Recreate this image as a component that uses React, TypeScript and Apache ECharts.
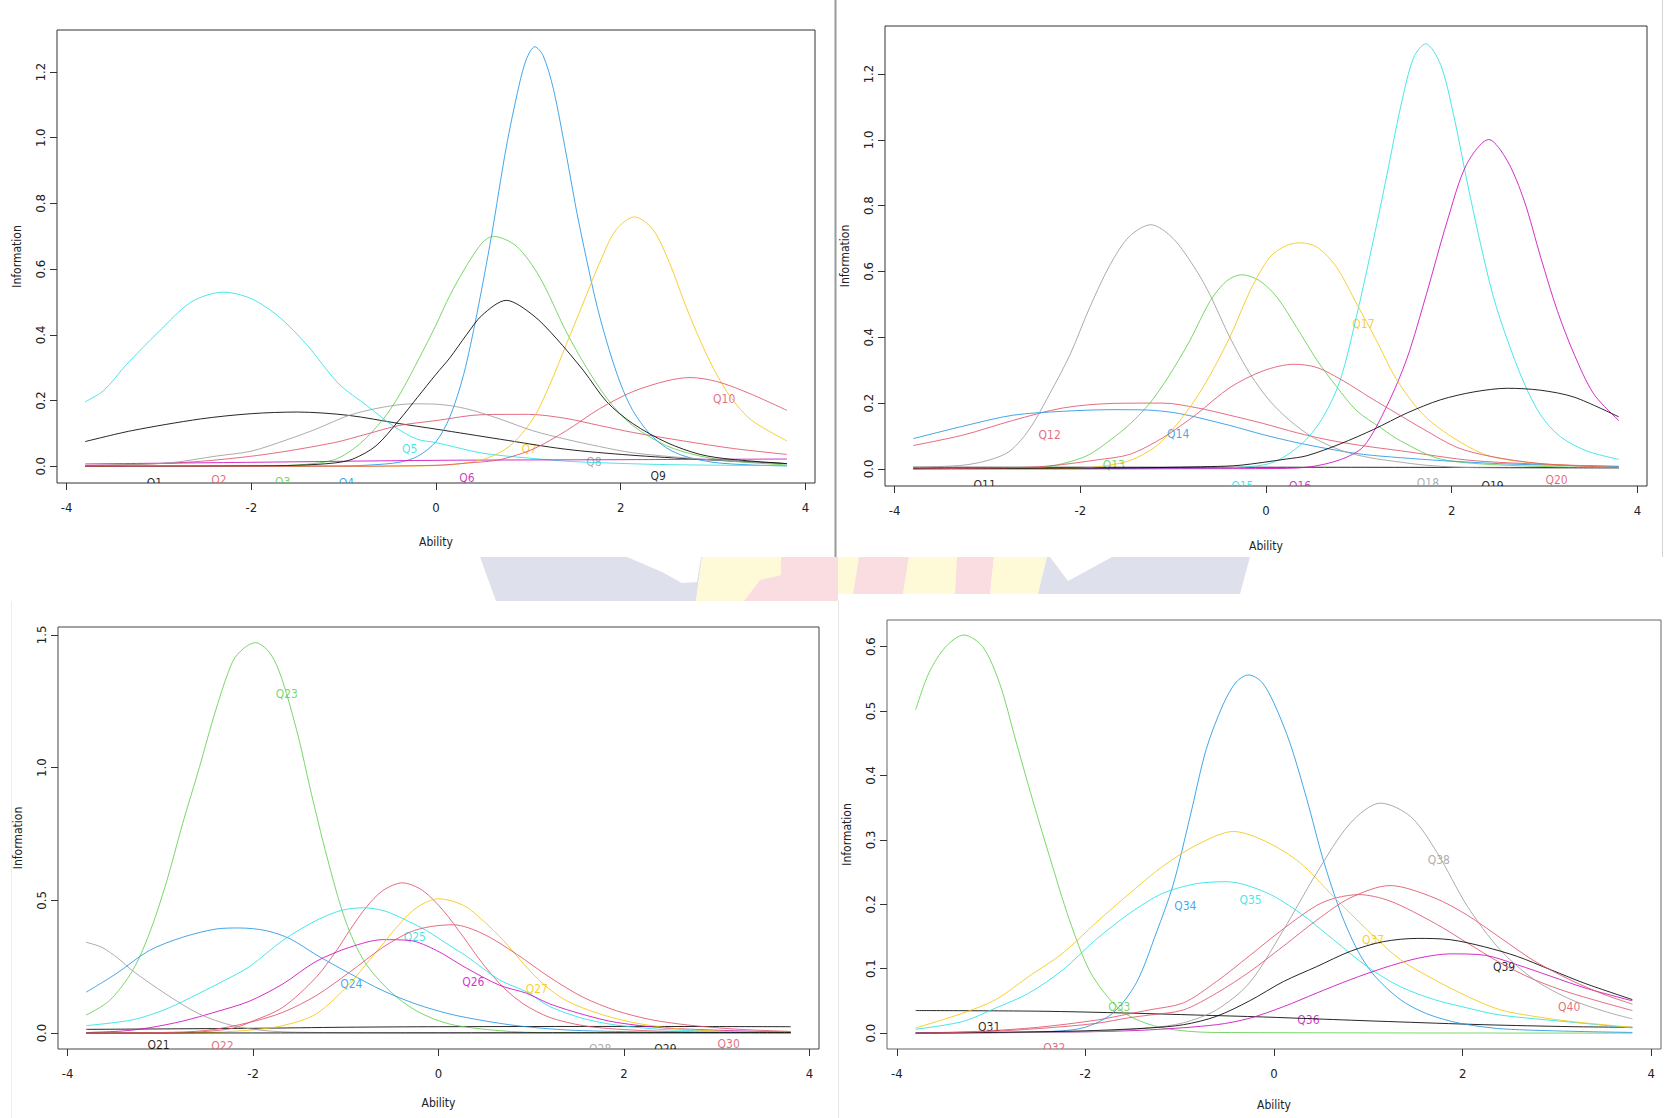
import React, { useEffect, useRef } from "react";
import * as echarts from "echarts";

type Pt = [number, number];

// ---------- Shared axis ticks ----------
const xTicks = [-4, -2, 0, 2, 4];
const yTicksTop = [0, 0.2, 0.4, 0.6, 0.8, 1.0, 1.2];
const yTicks3 = [0, 0.5, 1.0, 1.5];
const yTicks4 = [0, 0.1, 0.2, 0.3, 0.4, 0.5, 0.6];

// R default palette, recycled over the ten items of each panel
const rPalette = ["#000000", "#DF536B", "#61D04F", "#2297E6", "#28E2E5", "#CD0BBC", "#F5C710", "#9E9E9E"];

// ---------- Panel 1: Q1–Q10 (ability, information) ----------
const q01: Pt[] = [[-3.8, 0.075], [-3.3, 0.108], [-2.55, 0.144], [-2.0, 0.16], [-1.5, 0.165], [-0.95, 0.155], [-0.4, 0.13], [0, 0.113], [0.7, 0.082], [1.4, 0.052], [2.1, 0.034], [2.85, 0.021], [3.8, 0.008]];
const q02: Pt[] = [[-3.8, 0.002], [-3.2, 0.006], [-2.55, 0.015], [-1.85, 0.036], [-1.1, 0.072], [-0.75, 0.098], [-0.4, 0.124], [0, 0.139], [0.5, 0.157], [1.0, 0.158], [1.4, 0.146], [1.77, 0.124], [2.13, 0.103], [2.68, 0.077], [3.22, 0.054], [3.8, 0.036]];
const q03: Pt[] = [[-3.8, 0], [-2, 0.001], [-1.5, 0.004], [-1.1, 0.02], [-0.83, 0.067], [-0.57, 0.144], [-0.39, 0.22], [-0.18, 0.33], [0, 0.43], [0.15, 0.52], [0.33, 0.61], [0.5, 0.68], [0.62, 0.70], [0.87, 0.67], [1.12, 0.577], [1.41, 0.41], [1.63, 0.30], [1.88, 0.196], [2.13, 0.124], [2.5, 0.062], [2.86, 0.031], [3.22, 0.015], [3.8, 0.004]];
const q04: Pt[] = [[-3.8, 0], [-1, 0.001], [-0.7, 0.004], [-0.4, 0.012], [-0.2, 0.03], [0, 0.075], [0.15, 0.15], [0.3, 0.28], [0.44, 0.46], [0.6, 0.7], [0.76, 0.97], [0.9, 1.16], [0.98, 1.24], [1.07, 1.277], [1.16, 1.25], [1.27, 1.15], [1.41, 0.95], [1.52, 0.78], [1.63, 0.63], [1.75, 0.48], [1.88, 0.35], [2.0, 0.25], [2.13, 0.17], [2.31, 0.10], [2.5, 0.055], [2.7, 0.03], [3.0, 0.012], [3.4, 0.004], [3.8, 0.001]];
const q05: Pt[] = [[-3.8, 0.196], [-3.6, 0.23], [-3.35, 0.31], [-3.0, 0.41], [-2.65, 0.50], [-2.3, 0.53], [-2.0, 0.51], [-1.7, 0.455], [-1.4, 0.37], [-1.05, 0.25], [-0.75, 0.185], [-0.45, 0.12], [-0.2, 0.082], [0, 0.072], [0.5, 0.04], [1.0, 0.025], [1.5, 0.014], [2.5, 0.005], [3.8, 0.002]];
const q06: Pt[] = [[-3.8, 0.007], [-2, 0.012], [0, 0.018], [2, 0.02], [3.8, 0.022]];
const q07: Pt[] = [[-3.8, 0], [-1, 0], [0, 0.002], [0.5, 0.02], [0.8, 0.062], [1.05, 0.144], [1.23, 0.247], [1.41, 0.37], [1.59, 0.494], [1.77, 0.618], [1.95, 0.72], [2.15, 0.759], [2.35, 0.72], [2.53, 0.618], [2.71, 0.484], [2.93, 0.34], [3.15, 0.227], [3.4, 0.144], [3.8, 0.077]];
const q08: Pt[] = [[-3.8, 0.002], [-2.9, 0.01], [-2.38, 0.031], [-2.0, 0.046], [-1.6, 0.082], [-1.3, 0.113], [-0.94, 0.155], [-0.57, 0.18], [-0.25, 0.19], [0, 0.189], [0.33, 0.175], [0.69, 0.144], [1.05, 0.108], [1.41, 0.082], [1.77, 0.06], [2.13, 0.041], [2.68, 0.026], [3.22, 0.015], [3.8, 0.008]];
const q09: Pt[] = [[-3.8, 0], [-2, 0.001], [-1.5, 0.003], [-1.1, 0.01], [-0.9, 0.022], [-0.65, 0.062], [-0.4, 0.14], [-0.2, 0.21], [0, 0.28], [0.15, 0.33], [0.33, 0.40], [0.5, 0.46], [0.76, 0.505], [1.05, 0.46], [1.3, 0.39], [1.6, 0.29], [1.85, 0.196], [2.13, 0.13], [2.5, 0.072], [2.86, 0.036], [3.2, 0.021], [3.8, 0.008]];
const q10: Pt[] = [[-3.8, 0], [-1, 0], [0, 0.003], [0.35, 0.01], [0.69, 0.02], [1.05, 0.052], [1.41, 0.108], [1.77, 0.175], [2.13, 0.227], [2.5, 0.26], [2.75, 0.27], [3.04, 0.258], [3.4, 0.221], [3.8, 0.17]];
const names1 = ["Q1", "Q2", "Q3", "Q4", "Q5", "Q6", "Q7", "Q8", "Q9", "Q10"];
const labelAt1: Pt[] = [[-3.05, -0.05], [-2.35, -0.041], [-1.66, -0.049], [-0.97, -0.052], [-0.285, 0.054], [0.336, -0.036], [1.01, 0.054], [1.71, 0.012], [2.405, -0.029], [3.12, 0.206]];

// ---------- Panel 2: Q11–Q20 ----------
const q11: Pt[] = [[-3.8, 0.005], [0, 0.005], [3.8, 0.004]];
const q12: Pt[] = [[-3.8, 0.071], [-3.26, 0.103], [-2.73, 0.147], [-2.19, 0.185], [-1.65, 0.199], [-1.11, 0.2], [-0.75, 0.186], [-0.39, 0.163], [-0.03, 0.138], [0.33, 0.11], [0.69, 0.087], [1.05, 0.07], [1.45, 0.055], [2.24, 0.025], [3.3, 0.011], [3.8, 0.008]];
const q13: Pt[] = [[-3.8, 0.001], [-2.8, 0.002], [-2.4, 0.005], [-2.11, 0.022], [-1.9, 0.044], [-1.68, 0.087], [-1.47, 0.135], [-1.25, 0.2], [-1.04, 0.285], [-0.82, 0.39], [-0.6, 0.511], [-0.42, 0.572], [-0.26, 0.59], [-0.07, 0.572], [0.12, 0.521], [0.33, 0.43], [0.55, 0.33], [0.76, 0.25], [0.98, 0.176], [1.23, 0.126], [1.45, 0.085], [1.88, 0.03], [2.6, 0.011], [3.8, 0.003]];
const q14: Pt[] = [[-3.8, 0.092], [-3.26, 0.13], [-2.73, 0.163], [-2.19, 0.175], [-1.65, 0.18], [-1.29, 0.179], [-0.93, 0.168], [-0.39, 0.132], [-0.03, 0.104], [0.33, 0.08], [0.69, 0.06], [1.05, 0.044], [1.45, 0.034], [1.9, 0.025], [2.6, 0.015], [3.3, 0.01], [3.8, 0.007]];
const q15: Pt[] = [[-3.8, 0], [-1, 0.001], [-0.28, 0.005], [0.08, 0.02], [0.4, 0.08], [0.62, 0.16], [0.8, 0.27], [0.98, 0.47], [1.16, 0.7], [1.3, 0.89], [1.45, 1.1], [1.59, 1.25], [1.72, 1.292], [1.88, 1.229], [2.02, 1.077], [2.16, 0.881], [2.31, 0.685], [2.45, 0.522], [2.6, 0.392], [2.78, 0.261], [2.96, 0.163], [3.17, 0.098], [3.46, 0.054], [3.8, 0.029]];
const q16: Pt[] = [[-3.8, 0], [0, 0.001], [0.44, 0.005], [0.8, 0.028], [1.05, 0.068], [1.3, 0.19], [1.52, 0.337], [1.73, 0.533], [1.95, 0.751], [2.16, 0.925], [2.4, 1.001], [2.6, 0.936], [2.78, 0.816], [2.96, 0.642], [3.14, 0.479], [3.32, 0.348], [3.53, 0.228], [3.8, 0.147]];
const q17: Pt[] = [[-3.8, 0], [-2.2, 0.001], [-1.83, 0.006], [-1.47, 0.025], [-1.18, 0.07], [-0.93, 0.146], [-0.68, 0.247], [-0.39, 0.40], [-0.17, 0.542], [0.04, 0.643], [0.22, 0.679], [0.37, 0.687], [0.55, 0.674], [0.76, 0.613], [0.98, 0.50], [1.19, 0.39], [1.41, 0.27], [1.7, 0.163], [2.06, 0.087], [2.42, 0.038], [2.96, 0.016], [3.8, 0.004]];
const q18: Pt[] = [[-3.8, 0.005], [-3.27, 0.011], [-2.98, 0.027], [-2.76, 0.054], [-2.55, 0.12], [-2.33, 0.228], [-2.11, 0.348], [-1.9, 0.49], [-1.68, 0.62], [-1.47, 0.707], [-1.24, 0.742], [-1.0, 0.70], [-0.75, 0.603], [-0.6, 0.527], [-0.39, 0.40], [-0.17, 0.288], [0.04, 0.207], [0.26, 0.146], [0.51, 0.095], [0.83, 0.054], [1.12, 0.034], [1.41, 0.022], [1.73, 0.011], [2.2, 0.004], [3.8, 0.001]];
const q19: Pt[] = [[-3.8, 0.001], [-1.5, 0.003], [-0.6, 0.007], [-0.28, 0.011], [0.22, 0.03], [0.44, 0.04], [0.8, 0.076], [1.16, 0.12], [1.52, 0.17], [1.88, 0.21], [2.24, 0.234], [2.6, 0.245], [2.96, 0.239], [3.32, 0.218], [3.8, 0.158]];
const q20: Pt[] = [[-3.8, 0], [-2.55, 0.005], [-2.2, 0.013], [-1.83, 0.027], [-1.47, 0.044], [-1.11, 0.095], [-0.75, 0.166], [-0.39, 0.247], [-0.03, 0.298], [0.3, 0.318], [0.55, 0.308], [0.83, 0.268], [1.12, 0.217], [1.4, 0.17], [1.7, 0.12], [2.06, 0.065], [2.42, 0.038], [2.96, 0.016], [3.8, 0.004]];
const names2 = ["Q11", "Q12", "Q13", "Q14", "Q15", "Q16", "Q17", "Q18", "Q19", "Q20"];
const labelAt2: Pt[] = [[-3.03, -0.049], [-2.33, 0.103], [-1.64, 0.013], [-0.946, 0.107], [-0.255, -0.052], [0.367, -0.052], [1.05, 0.44], [1.744, -0.044], [2.44, -0.052], [3.13, -0.035]];

// ---------- Panel 3: Q21–Q30 ----------
const q21: Pt[] = [[-3.8, 0.014], [-2, 0.018], [-1, 0.022], [0, 0.024], [2, 0.025], [3.8, 0.024]];
const q22: Pt[] = [[-3.8, 0], [-2.9, 0.001], [-2.58, 0.004], [-2.22, 0.018], [-2.04, 0.04], [-1.68, 0.097], [-1.32, 0.21], [-1.1, 0.311], [-0.96, 0.386], [-0.78, 0.474], [-0.6, 0.537], [-0.39, 0.566], [-0.17, 0.537], [0.05, 0.462], [0.27, 0.361], [0.48, 0.26], [0.7, 0.172], [0.92, 0.109], [1.2, 0.059], [1.56, 0.028], [1.92, 0.015], [2.5, 0.006], [3.8, 0.001]];
const q23: Pt[] = [[-3.8, 0.068], [-3.55, 0.122], [-3.3, 0.235], [-3.12, 0.374], [-2.94, 0.562], [-2.76, 0.789], [-2.58, 1.0], [-2.4, 1.22], [-2.22, 1.4], [-2.1, 1.45], [-1.975, 1.471], [-1.85, 1.445], [-1.75, 1.39], [-1.64, 1.28], [-1.5, 1.1], [-1.39, 0.93], [-1.2, 0.66], [-1.0, 0.42], [-0.8, 0.27], [-0.53, 0.16], [-0.24, 0.084], [0.12, 0.034], [0.66, 0.009], [1.2, 0.001], [3.8, 0]];
const q24: Pt[] = [[-3.8, 0.154], [-3.48, 0.223], [-3.12, 0.311], [-2.76, 0.361], [-2.4, 0.392], [-2.15, 0.396], [-1.86, 0.386], [-1.6, 0.355], [-1.32, 0.295], [-0.96, 0.225], [-0.6, 0.16], [-0.24, 0.109], [0.12, 0.072], [0.48, 0.047], [0.84, 0.028], [1.2, 0.016], [1.56, 0.009], [2.5, 0.003], [3.8, 0.001]];
const q25: Pt[] = [[-3.8, 0.028], [-3.3, 0.05], [-2.94, 0.09], [-2.58, 0.15], [-2.3, 0.2], [-2.04, 0.25], [-1.68, 0.349], [-1.32, 0.424], [-1.05, 0.462], [-0.81, 0.472], [-0.6, 0.462], [-0.42, 0.437], [-0.13, 0.386], [0.12, 0.33], [0.3, 0.29], [0.66, 0.2], [0.95, 0.155], [1.2, 0.1], [1.56, 0.055], [1.92, 0.03], [2.5, 0.012], [3.8, 0.003]];
const q26: Pt[] = [[-3.8, 0.002], [-3.4, 0.008], [-3.12, 0.02], [-2.76, 0.045], [-2.4, 0.08], [-2.04, 0.12], [-1.68, 0.185], [-1.32, 0.27], [-0.96, 0.323], [-0.6, 0.352], [-0.31, 0.349], [-0.02, 0.311], [0.3, 0.245], [0.66, 0.18], [0.95, 0.15], [1.2, 0.11], [1.56, 0.07], [1.92, 0.04], [2.5, 0.018], [3.8, 0.003]];
const q27: Pt[] = [[-3.8, 0], [-2.6, 0.001], [-2.04, 0.011], [-1.68, 0.028], [-1.32, 0.072], [-0.96, 0.185], [-0.78, 0.26], [-0.6, 0.336], [-0.42, 0.411], [-0.23, 0.474], [0, 0.506], [0.27, 0.481], [0.48, 0.424], [0.7, 0.349], [0.92, 0.26], [1.13, 0.185], [1.38, 0.122], [1.74, 0.072], [2.1, 0.04], [2.5, 0.019], [3.0, 0.008], [3.8, 0.002]];
const q28: Pt[] = [[-3.8, 0.342], [-3.63, 0.323], [-3.45, 0.28], [-3.3, 0.235], [-2.94, 0.147], [-2.58, 0.072], [-2.22, 0.028], [-1.86, 0.009], [-1.5, 0.003], [0, 0], [3.8, 0]];
const q29: Pt[] = [[-3.8, 0], [0, 0.001], [3.8, 0.002]];
const q30: Pt[] = [[-3.8, 0], [-3, 0.002], [-2.5, 0.01], [-2.04, 0.04], [-1.68, 0.078], [-1.32, 0.141], [-0.96, 0.229], [-0.6, 0.323], [-0.31, 0.38], [-0.09, 0.401], [0.16, 0.408], [0.48, 0.374], [0.84, 0.298], [1.2, 0.21], [1.56, 0.135], [1.92, 0.084], [2.3, 0.05], [2.7, 0.03], [3.2, 0.015], [3.8, 0.006]];
const names3 = ["Q21", "Q22", "Q23", "Q24", "Q25", "Q26", "Q27", "Q28", "Q29", "Q30"];
const labelAt3: Pt[] = [[-3.02, -0.045], [-2.33, -0.05], [-1.636, 1.276], [-0.94, 0.185], [-0.256, 0.361], [0.375, 0.191], [1.06, 0.166], [1.744, -0.06], [2.447, -0.06], [3.13, -0.042]];

// ---------- Panel 4: Q31–Q40 ----------
const q31: Pt[] = [[-3.8, 0.035], [-2.5, 0.034], [-1.53, 0.031], [-0.82, 0.028], [-0.11, 0.025], [0.45, 0.022], [1.2, 0.018], [2.23, 0.013], [3.15, 0.01], [3.8, 0.009]];
const q32: Pt[] = [[-3.8, 0], [-3.1, 0.003], [-2.5, 0.009], [-1.89, 0.02], [-1.53, 0.03], [-1.32, 0.036], [-0.96, 0.047], [-0.61, 0.08], [-0.26, 0.12], [0.1, 0.162], [0.45, 0.198], [0.66, 0.21], [0.9, 0.215], [1.23, 0.205], [1.7, 0.171], [2.05, 0.14], [2.4, 0.109], [2.76, 0.083], [3.15, 0.062], [3.8, 0.035]];
const q33: Pt[] = [[-3.8, 0.502], [-3.66, 0.559], [-3.48, 0.6], [-3.29, 0.618], [-3.09, 0.6], [-2.91, 0.543], [-2.74, 0.455], [-2.56, 0.362], [-2.38, 0.274], [-2.17, 0.176], [-1.96, 0.098], [-1.74, 0.052], [-1.53, 0.026], [-1.18, 0.008], [-0.65, 0.001], [3.8, 0]];
const q34: Pt[] = [[-3.8, 0], [-2.5, 0.002], [-2.03, 0.008], [-1.71, 0.031], [-1.46, 0.078], [-1.25, 0.155], [-1.07, 0.23], [-0.89, 0.336], [-0.72, 0.44], [-0.54, 0.51], [-0.4, 0.545], [-0.27, 0.556], [-0.13, 0.545], [0.0, 0.512], [0.17, 0.45], [0.35, 0.362], [0.52, 0.27], [0.7, 0.19], [0.88, 0.13], [1.06, 0.09], [1.34, 0.052], [1.62, 0.03], [1.98, 0.015], [2.48, 0.006], [3.8, 0.001]];
const q35: Pt[] = [[-3.8, 0.006], [-3.3, 0.018], [-2.95, 0.039], [-2.6, 0.062], [-2.24, 0.098], [-1.89, 0.145], [-1.53, 0.186], [-1.18, 0.217], [-0.82, 0.232], [-0.5, 0.235], [-0.08, 0.218], [0.28, 0.186], [0.63, 0.145], [0.99, 0.103], [1.34, 0.072], [1.7, 0.052], [2.05, 0.039], [2.4, 0.028], [3.15, 0.017], [3.8, 0.008]];
const q36: Pt[] = [[-3.8, 0], [-2, 0.002], [-1.32, 0.005], [-0.61, 0.013], [-0.26, 0.023], [0.1, 0.041], [0.45, 0.062], [0.81, 0.083], [1.16, 0.101], [1.52, 0.116], [1.87, 0.123], [2.23, 0.121], [2.58, 0.106], [2.94, 0.088], [3.3, 0.07], [3.8, 0.05]];
const q37: Pt[] = [[-3.8, 0.008], [-3.3, 0.031], [-2.95, 0.052], [-2.6, 0.088], [-2.24, 0.124], [-1.89, 0.171], [-1.53, 0.217], [-1.18, 0.259], [-0.82, 0.292], [-0.43, 0.313], [-0.08, 0.297], [0.28, 0.264], [0.63, 0.212], [0.99, 0.16], [1.34, 0.114], [1.7, 0.083], [2.05, 0.057], [2.4, 0.036], [2.76, 0.026], [3.15, 0.018], [3.8, 0.009]];
const q38: Pt[] = [[-3.8, 0], [-2, 0.002], [-1.32, 0.008], [-0.96, 0.016], [-0.61, 0.036], [-0.26, 0.078], [0.1, 0.16], [0.45, 0.248], [0.81, 0.326], [1.13, 0.357], [1.45, 0.336], [1.73, 0.28], [2.05, 0.197], [2.4, 0.129], [2.76, 0.083], [3.15, 0.052], [3.5, 0.034], [3.8, 0.022]];
const q39: Pt[] = [[-3.8, 0], [-2.5, 0.002], [-1.9, 0.004], [-1.32, 0.008], [-0.96, 0.013], [-0.61, 0.026], [-0.26, 0.05], [0.1, 0.08], [0.45, 0.103], [0.81, 0.127], [1.16, 0.142], [1.52, 0.147], [1.87, 0.145], [2.23, 0.134], [2.58, 0.119], [2.94, 0.098], [3.3, 0.077], [3.8, 0.052]];
const q40: Pt[] = [[-3.8, 0], [-3.1, 0.002], [-2.5, 0.007], [-1.89, 0.015], [-1.53, 0.024], [-1.32, 0.028], [-0.96, 0.036], [-0.61, 0.062], [-0.26, 0.095], [0.1, 0.135], [0.45, 0.175], [0.81, 0.21], [1.23, 0.229], [1.7, 0.21], [2.05, 0.183], [2.4, 0.148], [2.76, 0.112], [3.15, 0.082], [3.5, 0.06], [3.8, 0.045]];
const names4 = ["Q31", "Q32", "Q33", "Q34", "Q35", "Q36", "Q37", "Q38", "Q39", "Q40"];
const labelAt4: Pt[] = [[-3.02, 0.009], [-2.33, -0.023], [-1.64, 0.041], [-0.94, 0.197], [-0.248, 0.207], [0.365, 0.021], [1.05, 0.144], [1.748, 0.269], [2.44, 0.103], [3.13, 0.041]];

// ---------- Layout ----------
const FONT = "'Liberation Sans Narrow', 'DejaVu Sans Condensed', 'Liberation Sans', Arial, sans-serif";
const TEXT = "#222222";

interface Panel {
  grid: { left: number; top: number; width: number; height: number };
  yMin: number;
  yMax: number;
  yTicks: number[];
  curves: Pt[][];
  names: string[];
  labelAt: Pt[];
  nameGapX: number;
  boxColor: string;
}

const panels: Panel[] = [
  { grid: { left: 57, top: 30, width: 758, height: 453 }, yMin: -0.051, yMax: 1.328, yTicks: yTicksTop,
    curves: [q01, q02, q03, q04, q05, q06, q07, q08, q09, q10], names: names1, labelAt: labelAt1, nameGapX: 53, boxColor: "#333" },
  { grid: { left: 885, top: 26, width: 762, height: 460 }, yMin: -0.052, yMax: 1.346, yTicks: yTicksTop,
    curves: [q11, q12, q13, q14, q15, q16, q17, q18, q19, q20], names: names2, labelAt: labelAt2, nameGapX: 54, boxColor: "#333" },
  { grid: { left: 58, top: 627, width: 761, height: 422 }, yMin: -0.06, yMax: 1.53, yTicks: yTicks3,
    curves: [q21, q22, q23, q24, q25, q26, q27, q28, q29, q30], names: names3, labelAt: labelAt3, nameGapX: 48, boxColor: "#444" },
  { grid: { left: 887, top: 620, width: 774, height: 429 }, yMin: -0.0247, yMax: 0.6413, yTicks: yTicks4,
    curves: [q31, q32, q33, q34, q35, q36, q37, q38, q39, q40], names: names4, labelAt: labelAt4, nameGapX: 50, boxColor: "#666" },
];

function buildOption() {
  const grid: any[] = [];
  const xAxis: any[] = [];
  const yAxis: any[] = [];
  const series: any[] = [];

  panels.forEach((p, pi) => {
    grid.push({ ...p.grid, show: true, borderColor: p.boxColor, borderWidth: 1, backgroundColor: "transparent" });
    xAxis.push({
      type: "value", gridIndex: pi, min: -4.104, max: 4.104,
      name: "Ability", nameLocation: "middle", nameGap: p.nameGapX,
      nameTextStyle: { color: TEXT, fontSize: 12, fontFamily: FONT },
      axisLine: { show: false, onZero: false },
      axisTick: { show: true, inside: false, length: 7, customValues: xTicks, lineStyle: { color: "#333" } },
      axisLabel: { customValues: xTicks, margin: 18, color: TEXT, fontSize: 13, fontFamily: FONT, formatter: (v: number) => String(v) },
      splitLine: { show: false },
    });
    yAxis.push({
      type: "value", gridIndex: pi, min: p.yMin, max: p.yMax,
      name: "Information", nameLocation: "middle", nameGap: 34,
      nameTextStyle: { color: TEXT, fontSize: 12, fontFamily: FONT },
      axisLine: { show: false, onZero: false },
      axisTick: { show: true, inside: false, length: 7, customValues: p.yTicks, lineStyle: { color: "#333" } },
      axisLabel: { customValues: p.yTicks, rotate: 90, margin: 10, color: TEXT, fontSize: 13, fontFamily: FONT, formatter: (v: number) => v.toFixed(1) },
      splitLine: { show: false },
    });

    p.curves.forEach((c, ci) => {
      const col = rPalette[ci % rPalette.length];
      series.push({
        type: "line", name: p.names[ci], xAxisIndex: pi, yAxisIndex: pi, data: c,
        showSymbol: false, symbol: "none", smooth: 0.3, clip: true, silent: true,
        lineStyle: { color: col, width: 1, opacity: 0.85 }, itemStyle: { color: col },
      });
    });

    const names = p.names;
    series.push({
      type: "custom", xAxisIndex: pi, yAxisIndex: pi, data: p.labelAt, clip: true, silent: true,
      encode: { x: 0, y: 1 },
      renderItem: (params: any, api: any) => {
        const pt = api.coord([api.value(0), api.value(1)]);
        const i = params.dataIndex;
        return {
          type: "text", x: pt[0], y: pt[1],
          style: { text: names[i], fill: rPalette[i % rPalette.length], opacity: 0.85, fontSize: 12, fontFamily: FONT, align: "center", verticalAlign: "middle" },
        };
      },
    });
  });

  // Faint watermark strip visible between the panels, plus panel frames
  const wmBlue = "#DEE1EB", wmYellow = "#FEFAD8", wmPink = "#F9DDE1";
  const poly = (points: number[][], fill: string) => ({ type: "polygon", shape: { points }, style: { fill }, silent: true, z: -10 });
  const line = (x1: number, y1: number, x2: number, y2: number, stroke: string, w: number) =>
    ({ type: "line", shape: { x1, y1, x2, y2 }, style: { stroke, lineWidth: w }, silent: true, z: -5 });

  const graphic = [
    poly([[480, 557], [702, 557], [696, 601], [496, 601]], wmBlue),
    poly([[627, 557], [701, 557], [697, 582], [682, 583], [662, 572]], "#FFFFFF"),
    poly([[702, 557], [781, 557], [781, 575], [760, 580], [744, 601], [696, 601]], wmYellow),
    poly([[781, 557], [838, 557], [838, 601], [744, 601], [760, 580], [781, 575]], wmPink),
    poly([[838, 557], [859, 557], [853, 594], [838, 594]], wmYellow),
    poly([[859, 557], [909, 557], [903, 594], [853, 594]], wmPink),
    poly([[909, 557], [957, 557], [955, 594], [903, 594]], wmYellow),
    poly([[957, 557], [994, 557], [990, 594], [955, 594]], wmPink),
    poly([[994, 557], [1047, 557], [1038, 594], [990, 594]], wmYellow),
    poly([[1047, 557], [1250, 557], [1240, 594], [1038, 594]], wmBlue),
    poly([[1050, 557], [1112, 557], [1068, 581]], "#FFFFFF"),
    line(835.5, 0, 835.5, 557, "#9A9A9A", 2),
    line(1662.5, 0, 1662.5, 557, "#D4D4D4", 1),
    line(11.5, 601, 11.5, 1118, "#EEEEEE", 1),
    line(838.5, 601, 838.5, 1118, "#E6E6E6", 1),
  ];

  return { animation: false, backgroundColor: "#FFFFFF", grid, xAxis, yAxis, series, graphic };
}

export default function App() {
  const ref = useRef<HTMLDivElement>(null);
  useEffect(() => {
    if (!ref.current) return;
    const chart = echarts.init(ref.current, undefined, { renderer: "svg" });
    chart.setOption(buildOption());
    return () => chart.dispose();
  }, []);
  return (
    <div
      ref={ref}
      style={{ position: "absolute", left: 0, top: 0, width: 1667, height: 1118, background: "#FFFFFF" }}
    />
  );
}
